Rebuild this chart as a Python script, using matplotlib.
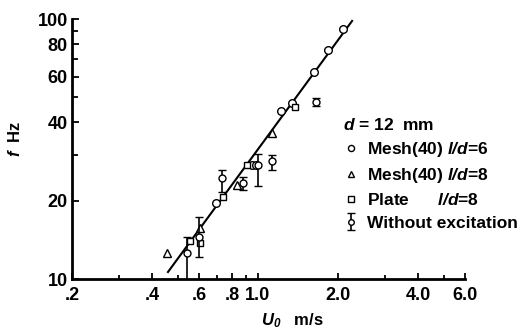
import matplotlib
matplotlib.use("Agg")
import matplotlib.pyplot as plt
from matplotlib.ticker import FixedLocator, FixedFormatter, NullFormatter

plt.rcParams['font.family'] = ['Liberation Sans', 'DejaVu Sans']
plt.rcParams['font.weight'] = 'bold'
plt.rcParams['mathtext.fontset'] = 'custom'
plt.rcParams['mathtext.rm'] = 'Liberation Sans:bold'
plt.rcParams['mathtext.it'] = 'Liberation Sans:italic:bold'
plt.rcParams['mathtext.bf'] = 'Liberation Sans:bold'
plt.rcParams['mathtext.bfit'] = 'Liberation Sans:bold:italic'

# ---- data ----
mesh6_u = [0.696, 0.950, 0.984, 1.221, 1.343, 1.625, 1.834, 2.088]
mesh6_f = [19.6, 27.4, 27.4, 44.3, 47.5, 62.5, 76.0, 91.5]

mesh8_u = [0.455, 0.606, 0.834, 1.13]
mesh8_f = [12.6, 15.7, 23.0, 36.4]

plate_u = [0.555, 0.606, 0.739, 0.910, 1.378]
plate_f = [14.0, 13.8, 20.7, 27.4, 45.9]

noexc_u = [0.541, 0.600, 0.733, 0.879, 1.00, 1.13, 1.65]
noexc_f = [12.6, 14.5, 24.5, 23.4, 27.4, 28.4, 48.0]
noexc_lo = [8.0, 12.2, 21.6, 22.0, 22.8, 26.2, 46.3]
noexc_hi = [14.5, 17.3, 26.3, 24.7, 30.3, 30.0, 49.7]

fit_u = [0.459, 2.258]
fit_f = [10.64, 98.3]

xticks = [0.2, 0.4, 0.6, 0.8, 1.0, 2.0, 4.0, 6.0]
xticklabels = ['.2', '.4', '.6', '.8', '1.0', '2.0', '4.0', '6.0']
xminor = [0.3, 0.5, 0.7, 0.9, 3.0, 5.0]
yticks = [10, 20, 40, 60, 80, 100]
yticklabels = ['10', '20', '40', '60', '80', '100']
yminor = [30, 50, 70, 90]

fig = plt.figure(figsize=(5.22, 3.30), dpi=100)
ax = fig.add_axes([72/522, 51/330, 393/522, 260/330])
ax.set_xscale('log')
ax.set_yscale('log')
ax.set_xlim(0.2, 6.0)
ax.set_ylim(10, 100)

ax.plot(fit_u, fit_f, color='black', lw=1.5, zorder=2)

mk = dict(ls='none', mfc='white', mec='black', mew=1.0, zorder=3)
h1, = ax.plot(mesh6_u, mesh6_f, marker='o', ms=5.5, **mk)
h2, = ax.plot(mesh8_u, mesh8_f, marker='^', ms=5.5, **mk)
h3, = ax.plot(plate_u, plate_f, marker='s', ms=5.0, **mk)
yerr = [[f - lo for f, lo in zip(noexc_f, noexc_lo)],
        [hi - f for f, hi in zip(noexc_f, noexc_hi)]]
h4 = ax.errorbar(noexc_u, noexc_f, yerr=yerr, fmt='o', ms=5, mfc='white',
                 mec='black', mew=1.0, ecolor='black', elinewidth=1.2,
                 capsize=3, capthick=1.2, zorder=3, clip_on=True)

for s in ['top', 'right']:
    ax.spines[s].set_visible(False)
for s in ['left', 'bottom']:
    ax.spines[s].set_linewidth(2.0)

ax.xaxis.set_major_locator(FixedLocator(xticks))
ax.xaxis.set_major_formatter(FixedFormatter(xticklabels))
ax.xaxis.set_minor_locator(FixedLocator(xminor))
ax.xaxis.set_minor_formatter(NullFormatter())
ax.yaxis.set_major_locator(FixedLocator(yticks))
ax.yaxis.set_major_formatter(FixedFormatter(yticklabels))
ax.yaxis.set_minor_locator(FixedLocator(yminor))
ax.yaxis.set_minor_formatter(NullFormatter())

ax.tick_params(axis='both', which='both', direction='in', width=1.3, color='black')
ax.tick_params(axis='x', which='major', length=4.5, pad=6, labelsize=13)
ax.tick_params(axis='x', which='minor', length=3)
ax.tick_params(axis='y', which='major', length=5, pad=3, labelsize=13)
ax.tick_params(axis='y', which='minor', length=4)
for t in ax.xaxis.get_major_ticks():
    if t.get_loc() == 1.0:
        t.tick1line.set_markersize(8)
for t in ax.yaxis.get_major_ticks():
    if t.get_loc() == 100:
        t.tick1line.set_markersize(9)
for lab in ax.get_xticklabels() + ax.get_yticklabels():
    lab.set_fontweight('bold')

ax.set_xlabel(r'$\mathbfit{U}_{\mathbfit{0}}$   m/s', fontsize=12, fontweight='bold')
ax.xaxis.set_label_coords(0.56, -0.125)
ax.set_ylabel(r'$\mathbfit{f}$  Hz', fontsize=12, fontweight='bold')
ax.yaxis.set_label_coords(-0.125, 0.54)

leg = ax.legend([h1, h2, h3, h4],
                [r'Mesh(40) $\mathbfit{l/d}$=6',
                 r'Mesh(40) $\mathbfit{l/d}$=8',
                 r'Plate      $\mathbfit{l/d}$=8',
                 'Without excitation'],
                title=r'$\mathbfit{d}$ = 12  mm', title_fontsize=12.5,
                loc='upper left', bbox_to_anchor=(0.69, 0.625),
                frameon=False, fontsize=12.5, handlelength=0.9,
                handletextpad=0.5, labelspacing=0.42, borderpad=0,
                borderaxespad=0, alignment='left', markerscale=0.8)
for t in leg.get_texts():
    t.set_fontweight('bold')

fig.savefig('out.png', dpi=100)
